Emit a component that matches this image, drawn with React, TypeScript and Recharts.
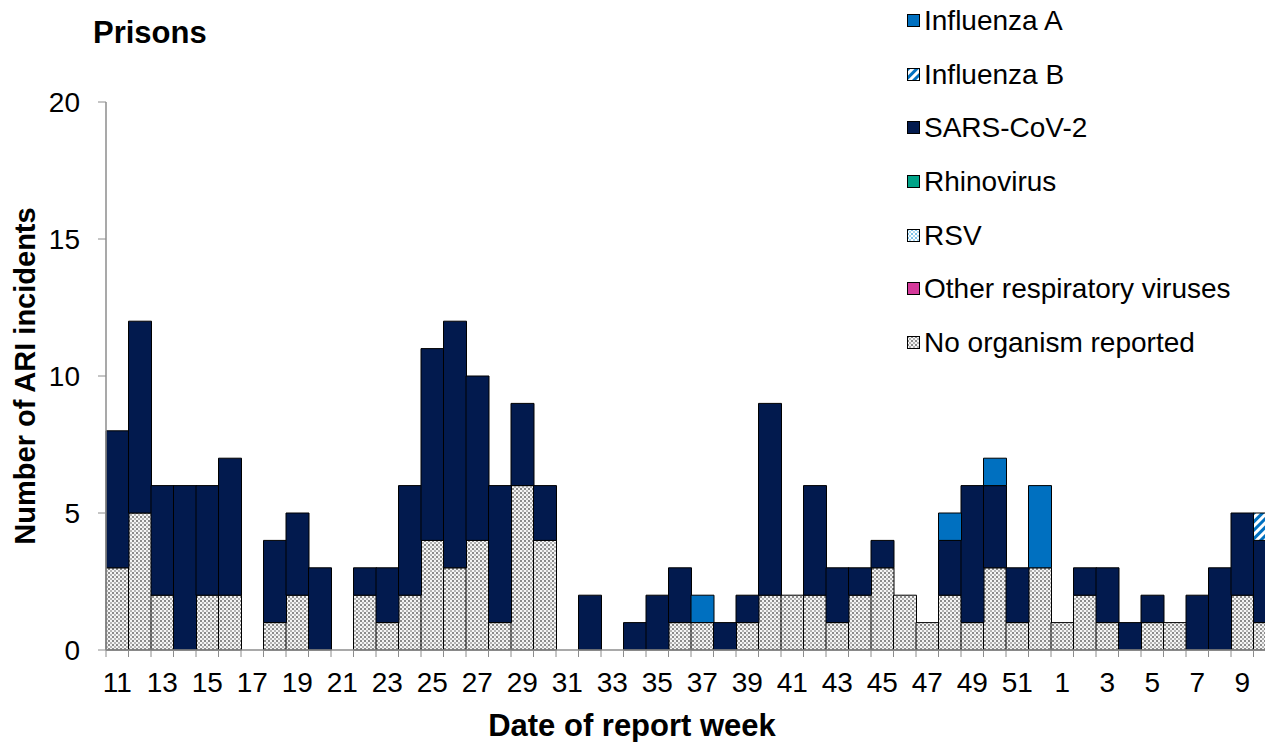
import React from 'react';
import { BarChart, Bar, XAxis, YAxis, Legend } from 'recharts';

const weeks = [
  '11', '12', '13', '14', '15', '16', '17', '18', '19', '20',
  '21', '22', '23', '24', '25', '26', '27', '28', '29', '30',
  '31', '32', '33', '34', '35', '36', '37', '38', '39', '40',
  '41', '42', '43', '44', '45', '46', '47', '48', '49', '50',
  '51', '52', '1', '2', '3', '4', '5', '6', '7', '8', '9', '10',
];

const noOrganism = [
  3, 5, 2, 0, 2, 2, 0, 1, 2, 0,
  0, 2, 1, 2, 4, 3, 4, 1, 6, 4,
  0, 0, 0, 0, 0, 1, 1, 0, 1, 2,
  2, 2, 1, 2, 3, 2, 1, 2, 1, 3,
  1, 3, 1, 2, 1, 0, 1, 1, 0, 0, 2, 1,
];

const sarsCov2 = [
  5, 7, 4, 6, 4, 5, 0, 3, 3, 3,
  0, 1, 2, 4, 7, 9, 6, 5, 3, 2,
  0, 2, 0, 1, 2, 2, 0, 1, 1, 7,
  0, 4, 2, 1, 1, 0, 0, 2, 5, 3,
  2, 0, 0, 1, 2, 1, 1, 0, 2, 3, 3, 3,
];

const influenzaA = [
  0, 0, 0, 0, 0, 0, 0, 0, 0, 0,
  0, 0, 0, 0, 0, 0, 0, 0, 0, 0,
  0, 0, 0, 0, 0, 0, 1, 0, 0, 0,
  0, 0, 0, 0, 0, 0, 0, 1, 0, 1,
  0, 3, 0, 0, 0, 0, 0, 0, 0, 0, 0, 0,
];

const influenzaB = [
  0, 0, 0, 0, 0, 0, 0, 0, 0, 0,
  0, 0, 0, 0, 0, 0, 0, 0, 0, 0,
  0, 0, 0, 0, 0, 0, 0, 0, 0, 0,
  0, 0, 0, 0, 0, 0, 0, 0, 0, 0,
  0, 0, 0, 0, 0, 0, 0, 0, 0, 0, 0, 1,
];

const rhinovirus = [
  0, 0, 0, 0, 0, 0, 0, 0, 0, 0,
  0, 0, 0, 0, 0, 0, 0, 0, 0, 0,
  0, 0, 0, 0, 0, 0, 0, 0, 0, 0,
  0, 0, 0, 0, 0, 0, 0, 0, 0, 0,
  0, 0, 0, 0, 0, 0, 0, 0, 0, 0, 0, 0,
];

const rsv = [
  0, 0, 0, 0, 0, 0, 0, 0, 0, 0,
  0, 0, 0, 0, 0, 0, 0, 0, 0, 0,
  0, 0, 0, 0, 0, 0, 0, 0, 0, 0,
  0, 0, 0, 0, 0, 0, 0, 0, 0, 0,
  0, 0, 0, 0, 0, 0, 0, 0, 0, 0, 0, 0,
];

const otherViruses = [
  0, 0, 0, 0, 0, 0, 0, 0, 0, 0,
  0, 0, 0, 0, 0, 0, 0, 0, 0, 0,
  0, 0, 0, 0, 0, 0, 0, 0, 0, 0,
  0, 0, 0, 0, 0, 0, 0, 0, 0, 0,
  0, 0, 0, 0, 0, 0, 0, 0, 0, 0, 0, 0,
];

const yTicks = [0, 5, 10, 15, 20];

const title = 'Prisons';
const yTitle = 'Number of ARI incidents';
const xTitle = 'Date of report week';

// stack order bottom -> top
const series = [
  { key: 'noOrg', name: 'No organism reported', fill: 'url(#pNo)' },
  { key: 'other', name: 'Other respiratory viruses', fill: '#D4399A' },
  { key: 'rsv', name: 'RSV', fill: 'url(#pRsv)' },
  { key: 'rhino', name: 'Rhinovirus', fill: '#00A388' },
  { key: 'sars', name: 'SARS-CoV-2', fill: '#021A4E' },
  { key: 'fluB', name: 'Influenza B', fill: 'url(#pFluB)' },
  { key: 'fluA', name: 'Influenza A', fill: '#0070C0' },
];

const data = weeks.map((w, i) => ({
  week: w,
  noOrg: noOrganism[i],
  other: otherViruses[i],
  rsv: rsv[i],
  rhino: rhinovirus[i],
  sars: sarsCov2[i],
  fluB: influenzaB[i],
  fluA: influenzaA[i],
}));

const FONT = '"Liberation Sans", Arial, sans-serif';
const W = 1290;
const H = 742;
const MARGIN = { top: 102, right: 14, bottom: 32, left: 0 };
const YAXIS_W = 106;
const BAND = (W - MARGIN.left - MARGIN.right - YAXIS_W) / weeks.length;
const AXIS_GREY = '#8c8c8c';
const TICK_FS = 28;

const XTick = (props: any) => {
  const { x, y, payload, index } = props;
  const half = BAND / 2;
  return (
    <g>
      <line x1={x - half} x2={x - half} y1={y} y2={y + 7} stroke={AXIS_GREY} strokeWidth={1} />
      {index === weeks.length - 1 && (
        <line x1={x + half} x2={x + half} y1={y} y2={y + 7} stroke={AXIS_GREY} strokeWidth={1} />
      )}
      {index % 2 === 0 && (
        <text x={x} y={y + 42} textAnchor="middle" fontSize={TICK_FS} fontFamily={FONT} fill="#000">
          {payload.value}
        </text>
      )}
    </g>
  );
};

const renderLegend = () => {
  const items = [...series].reverse();
  return (
    <div style={{ fontFamily: FONT, fontSize: 28, color: '#000' }}>
      {items.map((s) => (
        <div key={s.key} style={{ height: 53.7, display: 'flex', alignItems: 'center', whiteSpace: 'nowrap' }}>
          <svg width={14} height={14} style={{ marginRight: 3, flex: 'none' }}>
            <rect x={0.5} y={0.5} width={12} height={12} fill={s.fill} stroke="#000" strokeWidth={1} />
          </svg>
          <span>{s.name}</span>
        </div>
      ))}
    </div>
  );
};

export default function App() {
  const plotCy = MARGIN.top + (H - MARGIN.top - MARGIN.bottom - 60) / 2;
  return (
    <div style={{ position: 'fixed', left: 0, top: 0, width: 1265, height: 742, overflow: 'hidden', background: '#fff' }}>
      <BarChart width={W} height={H} data={data} margin={MARGIN} barCategoryGap={0} barGap={0}>
        <defs>
          <pattern id="pNo" width={4} height={4} patternUnits="userSpaceOnUse">
            <rect x={0} y={0} width={4} height={4} fill="#f4f4f4" />
            <rect x={0} y={0} width={2} height={2} fill="#8a8a8a" />
            <rect x={2} y={2} width={2} height={2} fill="#b4b4b4" />
          </pattern>
          <pattern id="pRsv" width={4} height={4} patternUnits="userSpaceOnUse">
            <rect x={0} y={0} width={4} height={4} fill="#ffffff" />
            <rect x={0} y={0} width={2} height={2} fill="#7cc4ec" />
            <rect x={2} y={2} width={2} height={2} fill="#a9d8f2" />
          </pattern>
          <pattern id="pFluB" width={6} height={6} patternUnits="userSpaceOnUse" patternTransform="rotate(45)">
            <rect x={0} y={0} width={6} height={6} fill="#ffffff" />
            <rect x={0} y={0} width={3} height={6} fill="#0070C0" />
          </pattern>
        </defs>
        <text x={93} y={43} fontSize={31} fontWeight="bold" fontFamily={FONT} fill="#000">
          {title}
        </text>
        <text
          x={25}
          y={plotCy}
          transform={`rotate(-90 25 ${plotCy})`}
          textAnchor="middle"
          dominantBaseline="central"
          fontSize={29}
          fontWeight="bold"
          fontFamily={FONT}
          fill="#000"
        >
          {yTitle}
        </text>
        <text x={632} y={736} textAnchor="middle" fontSize={31} fontWeight="bold" fontFamily={FONT} fill="#000">
          {xTitle}
        </text>
        <XAxis
          dataKey="week"
          interval={0}
          height={60}
          tickLine={false}
          tickSize={0}
          tickMargin={0}
          axisLine={{ stroke: AXIS_GREY, strokeWidth: 1.5 }}
          tick={<XTick />}
        />
        <YAxis
          width={YAXIS_W}
          domain={[0, 20]}
          ticks={yTicks}
          interval={0}
          tickSize={8}
          tickMargin={18}
          axisLine={{ stroke: AXIS_GREY, strokeWidth: 1.5 }}
          tickLine={{ stroke: AXIS_GREY, strokeWidth: 1 }}
          tick={{ fontSize: TICK_FS, fontFamily: FONT, fill: '#000' }}
        />
        <Legend
          layout="vertical"
          align="center"
          verticalAlign="middle"
          wrapperStyle={{ top: -6, left: 907, width: 358 }}
          content={renderLegend}
        />
        {series.map((s) => (
          <Bar
            key={s.key}
            dataKey={s.key}
            name={s.name}
            stackId="a"
            fill={s.fill}
            stroke="#000"
            strokeWidth={1}
            isAnimationActive={false}
          />
        ))}
      </BarChart>
    </div>
  );
}
